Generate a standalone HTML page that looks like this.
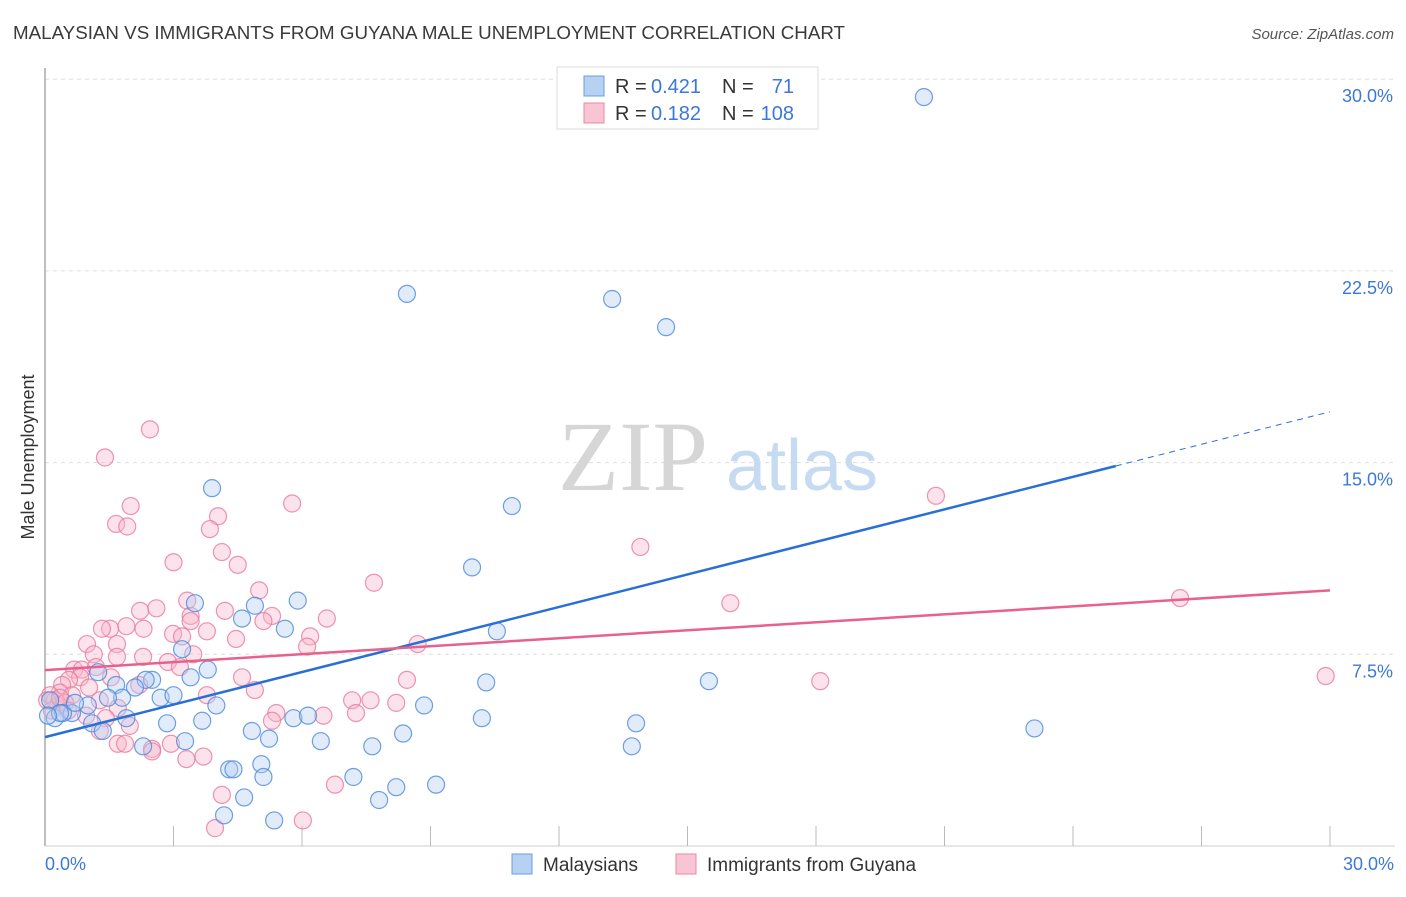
<!DOCTYPE html>
<html><head><meta charset="utf-8"><style>
body{margin:0;background:#fff;font-family:"Liberation Sans",sans-serif;}
</style></head><body>
<svg id="chart" width="1406" height="892" viewBox="0 0 1406 892" xmlns="http://www.w3.org/2000/svg" font-family="Liberation Sans, sans-serif">
<text x="13" y="39" font-size="18" fill="#3a3a3a" textLength="832" lengthAdjust="spacingAndGlyphs">MALAYSIAN VS IMMIGRANTS FROM GUYANA MALE UNEMPLOYMENT CORRELATION CHART</text>
<text x="1394" y="39" font-size="15" fill="#555" text-anchor="end" font-style="italic">Source: ZipAtlas.com</text>
<g id="grid"></g>
<g><text x="633" y="490" font-size="100" fill="#d6d6d6" text-anchor="middle" style="font-family:'Liberation Serif',serif">ZIP</text><text x="802" y="490" font-size="72" fill="#c6daf2" text-anchor="middle">atlas</text></g>
<line x1="45" y1="68" x2="45" y2="846" stroke="#aaa" stroke-width="1.5"/>
<line x1="45" y1="846" x2="1395" y2="846" stroke="#ccc" stroke-width="1"/>
<g id="xticks"></g>
<g id="ylabels"></g>
<text transform="translate(34,457) rotate(-90)" font-size="18" fill="#333" text-anchor="middle">Male Unemployment</text>
<text x="45" y="870" font-size="18" fill="#3c78d8">0.0%</text>
<text x="1394" y="870" font-size="18" fill="#3c78d8" text-anchor="end">30.0%</text>
<g id="pink"></g>
<g id="blue"></g>
<g id="trends"></g>
<g>
<rect x="557" y="67" width="261" height="62" fill="#fff" stroke="#ddd"/>
<rect x="584" y="76" width="20" height="20" fill="#b7d1f3" stroke="#6a9de0"/>
<rect x="584" y="103" width="20" height="20" fill="#f9c5d5" stroke="#e888a8"/>
<text x="615" y="93" font-size="20" fill="#333">R =</text><text x="651" y="93" font-size="20" fill="#3c78d8">0.421</text><text x="722" y="93" font-size="20" fill="#333">N =</text><text x="794" y="93" font-size="20" fill="#3c78d8" text-anchor="end">71</text>
<text x="615" y="120" font-size="20" fill="#333">R =</text><text x="651" y="120" font-size="20" fill="#3c78d8">0.182</text><text x="722" y="120" font-size="20" fill="#333">N =</text><text x="794" y="120" font-size="20" fill="#3c78d8" text-anchor="end">108</text>
</g>
<g>
<rect x="512" y="854" width="20" height="20" fill="#b7d1f3" stroke="#6a9de0"/>
<text x="543" y="871" font-size="19" fill="#333">Malaysians</text>
<rect x="676" y="854" width="20" height="20" fill="#f9c5d5" stroke="#e888a8"/>
<text x="707" y="871" font-size="19" fill="#333">Immigrants from Guyana</text>
</g>
</svg>
<script>
const yTicks=[7.5,15,22.5,30];
const yTickLabels=["7.5%","15.0%","22.5%","30.0%"];
const blueX=[20.52,8.45,13.24,14.5,3.9,10.9,9.97,3.5,5.9,4.9,4.6,5.6,10.55,3.2,3.8,3.4,2.5,2.35,15.5,10.3,2.1,1.66,1.24,2.7,3.0,1.8,1.47,4.0,8.85,1.0,0.63,0.23,0.42,0.7,0.12,1.9,2.85,3.67,5.8,6.14,10.2,13.8,23.1,1.1,1.35,4.83,5.23,6.44,8.36,3.27,2.29,7.64,13.7,5.05,4.3,4.4,5.1,7.2,9.13,8.2,4.65,7.8,4.18,5.35,0.35,0.07];
const blueY=[29.3,21.6,21.4,20.3,14.0,13.3,10.9,9.5,9.6,9.4,8.9,8.5,8.4,7.7,6.9,6.6,6.5,6.5,6.45,6.4,6.2,6.3,6.8,5.8,5.9,5.8,5.8,5.5,5.5,5.5,5.2,5.0,5.2,5.6,5.7,5.0,4.8,4.9,5.0,5.1,5.0,4.8,4.6,4.8,4.5,4.5,4.2,4.1,4.4,4.1,3.9,3.9,3.9,3.2,3.0,3.0,2.7,2.7,2.4,2.3,1.9,1.8,1.2,1.0,5.2,5.1];
const pinkX=[2.45,1.4,20.8,5.77,2.0,1.66,1.92,4.04,3.85,13.9,4.13,3.0,4.5,7.68,5.0,26.5,16.0,3.32,2.6,2.22,4.2,5.3,6.58,3.4,3.4,5.1,1.52,1.33,1.9,2.3,3.78,2.99,3.2,4.46,6.19,0.98,1.68,6.12,8.7,3.46,2.29,1.68,1.14,2.87,3.15,0.68,0.86,1.19,1.54,0.82,0.56,4.6,8.45,18.1,29.9,2.2,0.4,1.03,4.9,3.78,0.35,0.63,7.17,7.6,8.2,1.28,1.7,5.4,7.26,6.5,1.42,0.96,5.3,1.98,1.28,1.7,1.87,2.5,2.5,2.94,3.3,3.7,6.77,4.13,6.02,3.97,0.12,0.23,0.3,0.47,0.16,0.54,0.05,0.35];
const pinkY=[16.3,15.2,13.7,13.4,13.3,12.6,12.5,12.9,12.4,11.7,11.5,11.1,11.0,10.3,10.0,9.7,9.5,9.6,9.3,9.2,9.2,9.0,8.9,9.0,8.8,8.8,8.5,8.5,8.6,8.5,8.4,8.3,8.2,8.1,8.2,7.9,7.9,7.8,7.9,7.5,7.4,7.4,7.5,7.2,7.0,6.9,6.9,7.0,6.6,6.6,6.5,6.6,6.5,6.45,6.65,6.3,6.3,6.2,6.1,5.9,6.0,5.9,5.7,5.7,5.6,5.7,5.4,5.2,5.2,5.1,5.0,5.1,4.9,4.7,4.5,4.0,4.0,3.8,3.7,4.0,3.4,3.5,2.4,2.0,1.0,0.7,5.9,5.7,5.5,5.6,5.3,5.3,5.7,5.8];
const blueTrend=[4.26,0.4243];
const pinkTrend=[6.88,0.104];
const NS="http://www.w3.org/2000/svg";
const xs=v=>45+v/30*1285;
const ys=v=>846-v/7.5*191.7;
function mk(t,a,p){const e=document.createElementNS(NS,t);for(const k in a)e.setAttribute(k,a[k]);p.appendChild(e);return e;}
const grid=document.getElementById('grid'),yl=document.getElementById('ylabels'),xt=document.getElementById('xticks');
yTicks.forEach((t,i)=>{
 const l=mk('line',{x1:45,x2:1395,y1:ys(t),y2:ys(t),stroke:'#ddd','stroke-dasharray':'4,4'},grid);
 
 
 const tx=mk('text',{x:1393,y:ys(t)+23,'font-size':18,fill:'#3c78d8','text-anchor':'end'},yl);
 tx.textContent=yTickLabels[i];
 
 
});
for(let i=1;i<=10;i++){const l=mk('line',{x1:xs(i*3),x2:xs(i*3),y1:826,y2:846,stroke:'#bbb'},xt);
 
 }
function pts(X,Y,g,fill,stroke,name){X.forEach((x,i)=>{const c=mk('circle',{cx:xs(x),cy:ys(Y[i]),r:8.5,fill:fill,'fill-opacity':0.4,stroke:stroke,'stroke-width':1.2,'stroke-opacity':0.8},g);
 
 });}
pts(pinkX,pinkY,document.getElementById('pink'),'#f7b6cb','#e8799f','guyana-point');
pts(blueX,blueY,document.getElementById('blue'),'#b3cef2','#4a88dc','malaysian-point');
const tr=document.getElementById('trends');
const b1=mk('line',{x1:xs(0),y1:ys(blueTrend[0]),x2:xs(25),y2:ys(blueTrend[0]+25*blueTrend[1]),stroke:'#2a6fd6','stroke-width':2.5},tr);


const b2=mk('line',{x1:xs(25),y1:ys(blueTrend[0]+25*blueTrend[1]),x2:xs(30),y2:ys(blueTrend[0]+30*blueTrend[1]),stroke:'#2a6fd6','stroke-width':1,'stroke-dasharray':'6,5'},tr);


const p1=mk('line',{x1:xs(0),y1:ys(pinkTrend[0]),x2:xs(30),y2:ys(pinkTrend[0]+30*pinkTrend[1]),stroke:'#e8608c','stroke-width':2.5},tr);


</script>
</body></html>
